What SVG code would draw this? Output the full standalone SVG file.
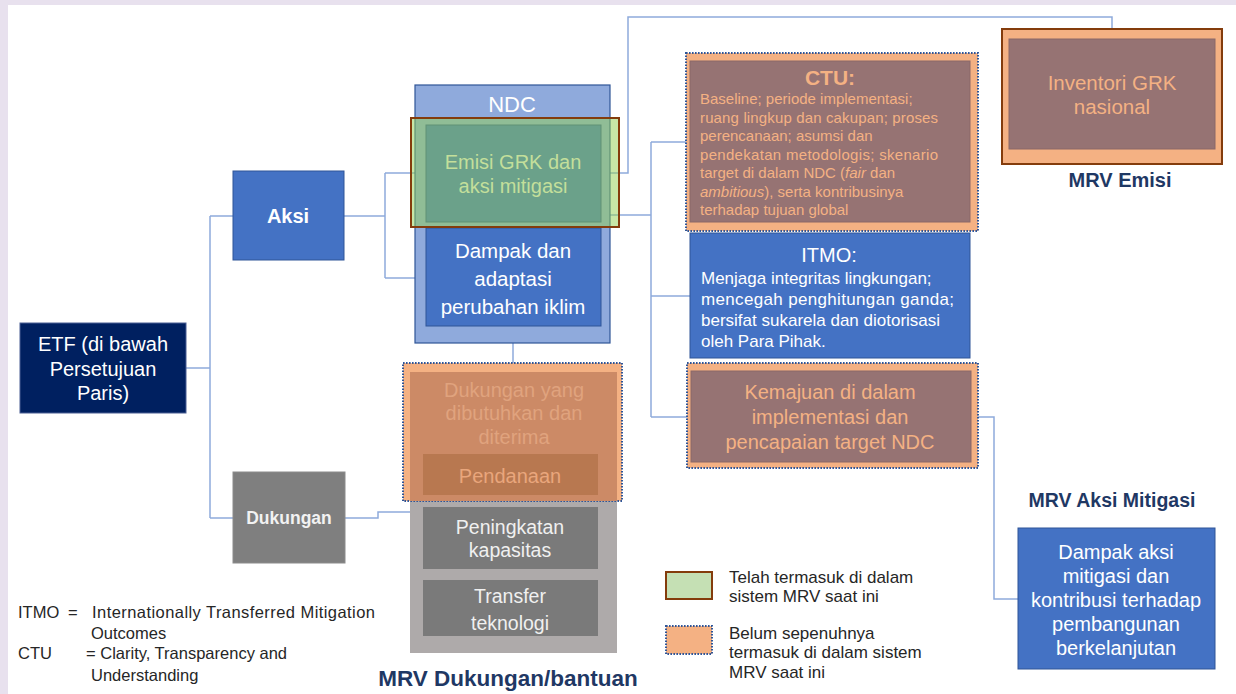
<svg xmlns="http://www.w3.org/2000/svg" width="1236" height="694" viewBox="0 0 1236 694">
<style>
.t{font-family:"Liberation Sans",Arial,sans-serif;}
.b{font-weight:bold;}
.c{text-anchor:middle;}
.w{fill:#ffffff;}
.pk{fill:#f4b183;}
.nv{fill:#1f3864;}
.blue{fill:#4472c4;stroke:#2f5597;stroke-width:1;}
.mauve{fill:#967373;stroke:#8a6868;stroke-width:1;}
.dot{fill:#f4b183;stroke:#2f5597;stroke-width:2;stroke-dasharray:1.6 1.4;}
.conn{fill:none;stroke:#8eaadb;stroke-width:1.5;}
</style>
<rect x="0" y="0" width="1236" height="694" fill="#e8e1ee"/>
<rect x="8" y="5" width="1228" height="689" fill="#ffffff"/>

<g id="connectors">
  <path class="conn" d="M186,368 H210 M210,216 V518 M210,216 H233 M210,518 H233"/>
  <path class="conn" d="M344,216 H385 M385,173 V278 M385,173 H426 M385,278 H426"/>
  <path class="conn" d="M601,173 H628 V17 H1112 V30"/>
  <path class="conn" d="M601,215 H651 M651,142 V417 M651,142 H688 M651,296 H690 M651,417 H688"/>
  <path class="conn" d="M971,417 H994 V599 H1019"/>
  <path class="conn" d="M513,343 V372"/>
  <path class="conn" d="M345,518 H378 V512 H410"/>
</g>

<g id="etf">
  <rect x="20" y="323" width="166" height="90" fill="#002060" stroke="#4a5f94" stroke-width="1"/>
  <text class="t c w" font-size="20" x="103" y="351">ETF (di bawah</text>
  <text class="t c w" font-size="20" x="103" y="376">Persetujuan</text>
  <text class="t c w" font-size="20" x="103" y="400">Paris)</text>
</g>

<g id="aksi">
  <rect class="blue" x="233" y="171" width="111" height="89"/>
  <text class="t b c w" font-size="20" x="288" y="223">Aksi</text>
</g>

<g id="dukungan">
  <rect x="233" y="472" width="112" height="91" fill="#7f7f7f" stroke="#8c8c8c" stroke-width="1"/>
  <text class="t b c" font-size="17.5" x="289" y="524" fill="#f2f2f2">Dukungan</text>
</g>

<g id="ndc">
  <rect x="415" y="85" width="195" height="258" fill="#8faadc" stroke="#2f5597" stroke-width="1.2"/>
  <text class="t c w" font-size="22" x="512" y="112">NDC</text>
</g>

<g id="dampak-adaptasi">
  <rect class="blue" x="426" y="228" width="175" height="98"/>
  <text class="t c w" font-size="20.5" x="513" y="258">Dampak dan</text>
  <text class="t c w" font-size="20.5" x="513" y="286">adaptasi</text>
  <text class="t c w" font-size="20.5" x="513" y="314">perubahan iklim</text>
</g>

<g id="emisi">
  <rect class="blue" x="426" y="125" width="175" height="97"/>
  <rect x="411" y="118" width="208" height="109" fill="#92d050" fill-opacity="0.5" stroke="#843c0c" stroke-width="2"/>
  <text class="t c" font-size="20" x="513" y="169" fill="#c3df9b">Emisi GRK dan</text>
  <text class="t c" font-size="20" x="513" y="193" fill="#c3df9b">aksi mitigasi</text>
</g>

<g id="ctu">
  <rect class="dot" x="686" y="53" width="292" height="178"/>
  <rect class="mauve" x="690" y="61" width="280" height="161"/>
  <text class="t b c pk" font-size="21" x="830" y="85">CTU:</text>
  <g class="t pk" font-size="15">
    <text x="700" y="104">Baseline; periode implementasi;</text>
    <text x="700" y="122.5" textLength="238" lengthAdjust="spacing">ruang lingkup dan cakupan; proses</text>
    <text x="700" y="141">perencanaan; asumsi dan</text>
    <text x="700" y="159.5" textLength="238" lengthAdjust="spacing">pendekatan metodologis; skenario</text>
    <text x="700" y="178">target di dalam NDC (<tspan font-style="italic">fair</tspan> dan</text>
    <text x="700" y="196.5"><tspan font-style="italic">ambitious</tspan>), serta kontribusinya</text>
    <text x="700" y="215">terhadap tujuan global</text>
  </g>
</g>

<g id="itmo">
  <rect class="blue" x="690" y="233" width="280" height="125"/>
  <text class="t c w" font-size="20" x="829" y="262">ITMO:</text>
  <g class="t w" font-size="17">
    <text x="701" y="284">Menjaga integritas lingkungan;</text>
    <text x="701" y="305" textLength="253" lengthAdjust="spacing">mencegah penghitungan ganda;</text>
    <text x="701" y="326">bersifat sukarela dan diotorisasi</text>
    <text x="701" y="347">oleh Para Pihak.</text>
  </g>
</g>

<g id="kemajuan">
  <rect class="dot" x="687" y="363" width="291" height="105"/>
  <rect class="mauve" x="691" y="371" width="280" height="91"/>
  <text class="t c pk" font-size="20" x="830" y="399">Kemajuan di dalam</text>
  <text class="t c pk" font-size="20" x="830" y="424">implementasi dan</text>
  <text class="t c pk" font-size="20" x="830" y="449">pencapaian target NDC</text>
</g>

<g id="inventori">
  <rect x="1002" y="29" width="220" height="135" fill="#f4b183" stroke="#843c0c" stroke-width="2"/>
  <rect class="mauve" x="1009" y="39" width="206" height="110"/>
  <text class="t c pk" font-size="20.5" x="1112" y="90">Inventori GRK</text>
  <text class="t c pk" font-size="20.5" x="1112" y="114">nasional</text>
  <text class="t b c nv" font-size="20" x="1120" y="187">MRV Emisi</text>
</g>

<g id="dampak-aksi">
  <text class="t b c nv" font-size="19.5" x="1112" y="507">MRV Aksi Mitigasi</text>
  <rect class="blue" x="1018" y="528" width="197" height="141"/>
  <text class="t c w" font-size="20" x="1116" y="559">Dampak aksi</text>
  <text class="t c w" font-size="20" x="1116" y="583">mitigasi dan</text>
  <text class="t c w" font-size="20" x="1116" y="607">kontribusi terhadap</text>
  <text class="t c w" font-size="20" x="1116" y="631">pembangunan</text>
  <text class="t c w" font-size="20" x="1116" y="655">berkelanjutan</text>
</g>

<g id="mrv-dukungan">
  <rect x="410" y="372" width="207" height="281" fill="#aeaaaa"/>
  <rect class="dot" x="403" y="363" width="219" height="138"/>
  <rect x="410" y="372" width="207" height="129" fill="#cc8a66"/>
  <text class="t c" font-size="20" x="514" y="397" fill="#e0a37e">Dukungan yang</text>
  <text class="t c" font-size="20" x="514" y="420" fill="#e0a37e">dibutuhkan dan</text>
  <text class="t c" font-size="20" x="514" y="444" fill="#e0a37e">diterima</text>
  <rect x="423" y="454" width="175" height="41" fill="#b87850"/>
  <text class="t c" font-size="20" x="510" y="483" fill="#e9a67c">Pendanaan</text>
  <rect x="423" y="507" width="175" height="62" fill="#7a7a7a"/>
  <text class="t c" font-size="19.5" x="510" y="534" fill="#f0f0f0">Peningkatan</text>
  <text class="t c" font-size="19.5" x="510" y="557" fill="#f0f0f0">kapasitas</text>
  <rect x="423" y="580" width="175" height="56" fill="#7a7a7a"/>
  <text class="t c" font-size="19.5" x="510" y="603" fill="#f0f0f0">Transfer</text>
  <text class="t c" font-size="19.5" x="510" y="630" fill="#f0f0f0">teknologi</text>
  <text class="t b c nv" font-size="22.5" x="508" y="686">MRV Dukungan/bantuan</text>
</g>

<g id="legend">
  <rect x="666" y="572" width="46" height="27" fill="#c5e0b4" stroke="#843c0c" stroke-width="2"/>
  <text class="t" font-size="17" x="729" y="583" fill="#262626">Telah termasuk di dalam</text>
  <text class="t" font-size="17" x="729" y="602" fill="#262626">sistem MRV saat ini</text>
  <rect class="dot" x="666" y="626" width="46" height="28"/>
  <text class="t" font-size="17" x="729" y="639" fill="#262626">Belum sepenuhnya</text>
  <text class="t" font-size="17" x="729" y="658" fill="#262626">termasuk di dalam sistem</text>
  <text class="t" font-size="17" x="729" y="678" fill="#262626">MRV saat ini</text>
</g>

<g id="abbrev" class="t" font-size="16.5" fill="#262626">
  <text x="18" y="618">ITMO</text>
  <text x="68" y="618">=</text>
  <text x="92" y="618" textLength="283" lengthAdjust="spacing">Internationally  Transferred Mitigation</text>
  <text x="91" y="639">Outcomes</text>
  <text x="18" y="659">CTU</text>
  <text x="86" y="659">= Clarity, Transparency and</text>
  <text x="91" y="681">Understanding</text>
</g>
</svg>
